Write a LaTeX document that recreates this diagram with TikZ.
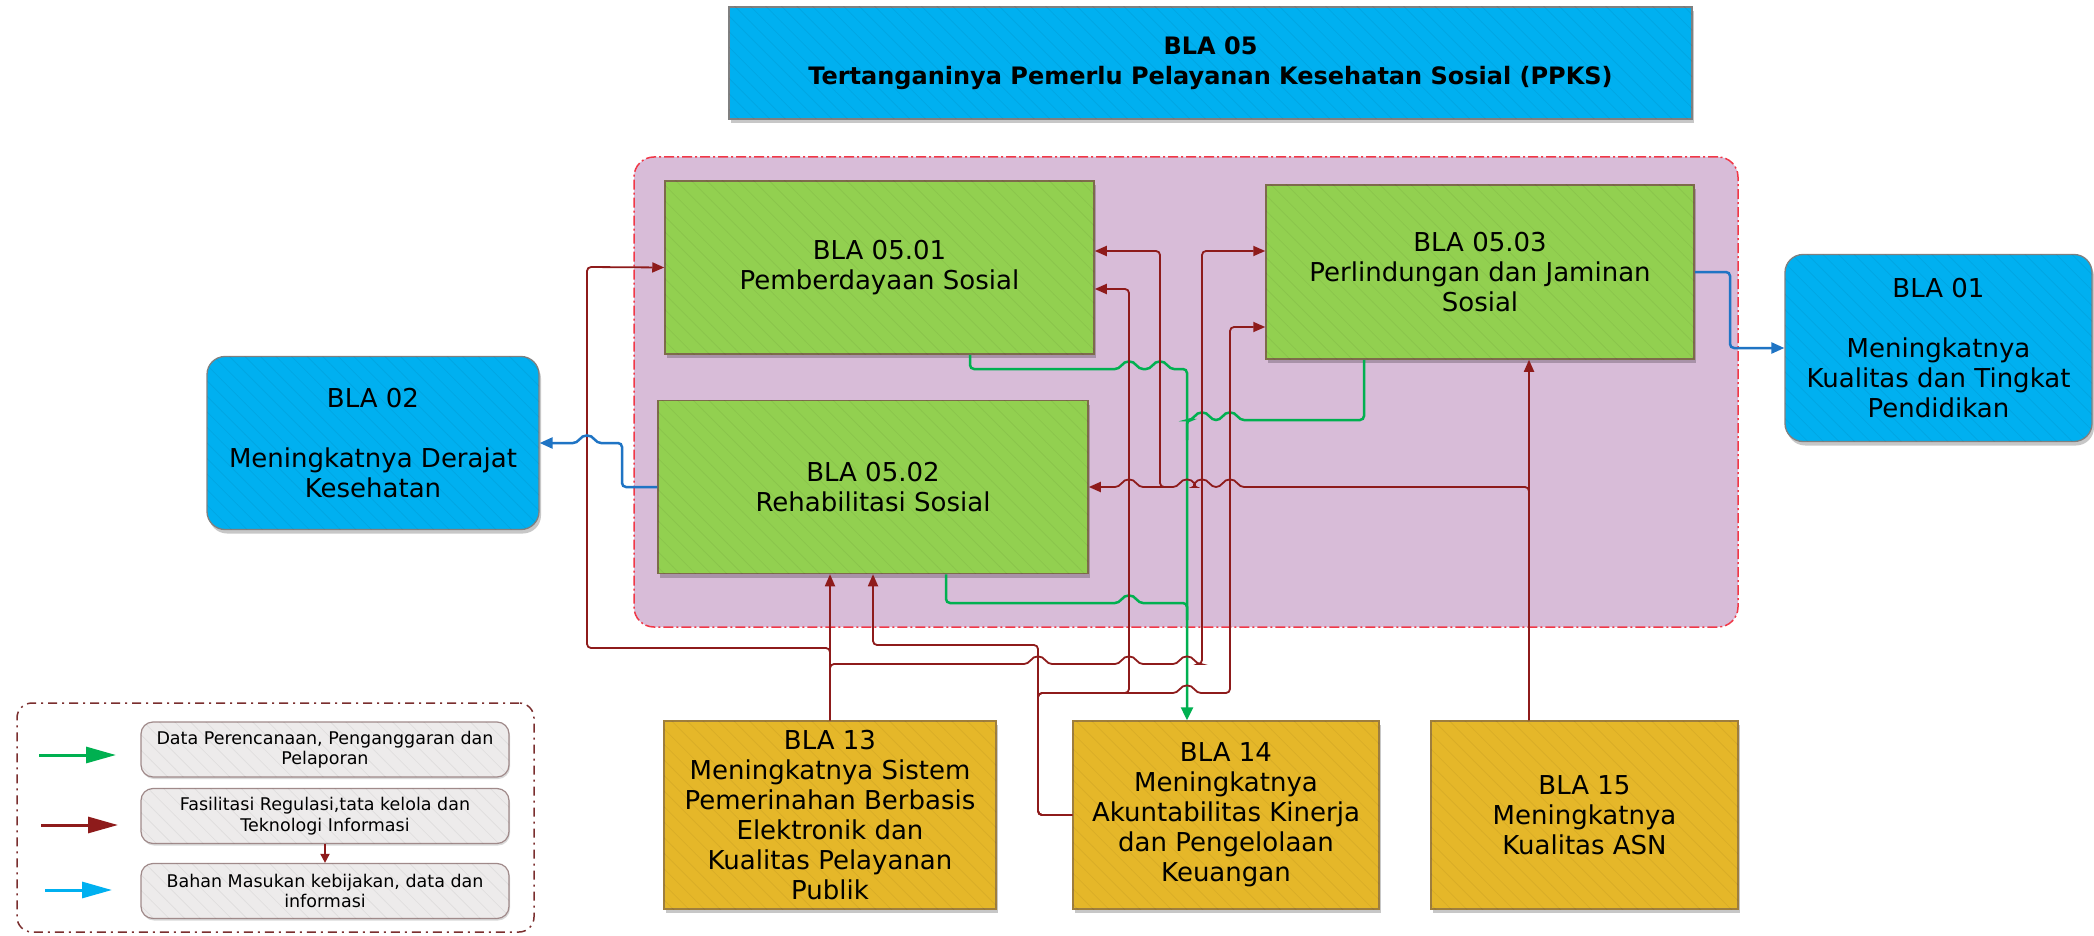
\documentclass[tikz,border=0pt]{standalone}
\usepackage{fontspec}
\setmainfont{DejaVu Sans}
\usetikzlibrary{arrows.meta,shadows,patterns.meta}
\definecolor{cyanfill}{HTML}{00B0F0}
\definecolor{greenfill}{HTML}{92D050}
\definecolor{yellowfill}{HTML}{E5B729}
\definecolor{purplebg}{HTML}{D8BCD8}
\definecolor{redline}{HTML}{8E1B1B}
\definecolor{greenline}{HTML}{00B050}
\definecolor{blueline}{HTML}{1F74C4}
\definecolor{legcyan}{HTML}{00B0F0}
\definecolor{boxborder}{HTML}{808080}
\definecolor{greenborder}{HTML}{7D6B4B}
\definecolor{yellowborder}{HTML}{9E7E3E}
\definecolor{legfill}{HTML}{EDEBEB}
\definecolor{legborder}{HTML}{A08A8A}
\definecolor{legframe}{HTML}{7A2E2E}
\definecolor{grpframe}{HTML}{F03848}
\newcommand\hopl[2]{-- ({#1-10},#2) .. controls ({#1-4},{#2-9}) and ({#1+4},{#2-9}) .. ({#1+10},#2)}
\newcommand\hopr[2]{-- ({#1+10},#2) .. controls ({#1+4},{#2-9}) and ({#1-4},{#2-9}) .. ({#1-10},#2)}
\tikzset{
  shd/.style={drop shadow={shadow xshift=2pt,shadow yshift=-4pt,opacity=.22,fill=black}},
  hatch/.style={postaction={pattern={Lines[angle=-45,distance=11pt,line width=0.8pt]}, pattern color=black, opacity=0.05}},
  boxtxt/.style={font=\fontsize{26}{30}\selectfont, align=center, text=black, inner sep=0pt},
  cyanbox/.style={boxtxt, draw=boxborder, line width=1.3pt, fill=cyanfill, shd, hatch},
  roundcyan/.style={cyanbox, rounded corners=18pt},
  greenbox/.style={boxtxt, draw=greenborder, line width=1.5pt, fill=greenfill, shd, hatch},
  yellowbox/.style={boxtxt, draw=yellowborder, line width=1.5pt, fill=yellowfill, shd, hatch},
  legitem/.style={draw=legborder, line width=1.2pt, fill=legfill, rounded corners=12pt,
    minimum width=368pt, minimum height=55pt, inner sep=0pt, align=center,
    font=\fontsize{17.5}{20.5}\selectfont, drop shadow={shadow xshift=1pt,shadow yshift=-2pt,opacity=.15,fill=black}, hatch},
  redn/.style={draw=redline, line width=1.8pt, rounded corners=4pt},
  redc/.style={redn, -{Triangle[length=12pt,width=10pt]}},
  greenn/.style={draw=greenline, line width=2.5pt, rounded corners=4pt},
  greenc/.style={greenn, -{Triangle[length=13pt,width=12pt]}},
  bluec/.style={draw=blueline, line width=2.5pt, rounded corners=4pt, -{Triangle[length=13pt,width=11pt]}},
  legarrow/.style={line width=3pt, -{Triangle[length=30pt,width=16pt]}},
}
\begin{document}
\begin{tikzpicture}[x=1pt,y=-1pt]
\useasboundingbox (0,0) rectangle (2094,936);
\fill[white] (0,0) rectangle (2094,936);

% group container
\node[draw=grpframe, line width=1.5pt, dash pattern=on 10pt off 3pt on 2pt off 3pt,
  fill=purplebg, rounded corners=20pt, minimum width=1104pt, minimum height=470pt, inner sep=0pt]
  (grp) at (1186,392) {};

% boxes
\node[cyanbox, font=\bfseries\fontsize{24}{30}\selectfont, minimum width=963pt, minimum height=112pt] (top) at (1210.5,63)
  {BLA 05\\Tertanganinya Pemerlu Pelayanan Kesehatan Sosial (PPKS)};
\node[greenbox, minimum width=429pt, minimum height=173pt] (b0501) at (879.5,267.5) {BLA 05.01\\Pemberdayaan Sosial};
\node[greenbox, minimum width=428pt, minimum height=174pt] (b0503) at (1480,272) {BLA 05.03\\Perlindungan dan Jaminan\\Sosial};
\node[greenbox, minimum width=430pt, minimum height=173pt] (b0502) at (873,487) {BLA 05.02\\Rehabilitasi Sosial};
\node[roundcyan, minimum width=332pt, minimum height=173pt] (b02) at (373,443) {BLA 02\\[30pt]Meningkatnya Derajat\\Kesehatan};
\node[roundcyan, minimum width=307pt, minimum height=187pt] (b01) at (1938.5,348) {BLA 01\\[30pt]Meningkatnya\\Kualitas dan Tingkat\\Pendidikan};
\node[yellowbox, minimum width=332pt, minimum height=188pt] (b13) at (830,815) {BLA 13\\Meningkatnya Sistem\\Pemerinahan Berbasis\\Elektronik dan\\Kualitas Pelayanan\\Publik};
\node[yellowbox, minimum width=306pt, minimum height=188pt] (b14) at (1226,815) {BLA 14\\Meningkatnya\\Akuntabilitas Kinerja\\dan Pengelolaan\\Keuangan};
\node[yellowbox, minimum width=307pt, minimum height=188pt] (b15) at (1584.5,815) {BLA 15\\Meningkatnya\\Kualitas ASN};

% legend
\node[draw=legframe, line width=1.5pt, dash pattern=on 9pt off 5pt on 2pt off 5pt,
  rounded corners=15pt, minimum width=517pt, minimum height=229pt, inner sep=0pt] (leg) at (275.5,817.5) {};
\node[legitem] (l1) at (325,749.5) {Data Perencanaan, Penganggaran dan\\Pelaporan};
\node[legitem] (l2) at (325,816) {Fasilitasi Regulasi,tata kelola dan\\Teknologi Informasi};
\node[legitem] (l3) at (325,891) {Bahan Masukan kebijakan, data dan\\informasi};
\coordinate (lg1a) at (39,755); \coordinate (lg1b) at (116,755);
\coordinate (lg2a) at (41,825); \coordinate (lg2b) at (118,825);
\coordinate (lg3a) at (45,890); \coordinate (lg3b) at (112,890);
\draw[legarrow, draw=greenline, fill=greenline] (lg1a) -- (lg1b);
\draw[legarrow, draw=redline, fill=redline] (lg2a) -- (lg2b);
\draw[legarrow, draw=legcyan, fill=legcyan] (lg3a) -- (lg3b);
\draw[draw=redline, line width=1.8pt, -{Triangle[length=9pt,width=9pt]}] (l2.south) -- (l3.north);

% green connectors (data perencanaan) -> BLA 14
\draw[greenc] ([xshift=90.5pt]b0501.south) -- (970,369) \hopl{1129}{369} \hopl{1160}{369} -- (1187,369) -- ([xshift=-39pt]b14.north);
\draw[greenn] ([xshift=-116pt]b0503.south) -- (1364,420) \hopr{1230}{420} \hopr{1202}{420} -- (1187,420) -- (1187,440);
\draw[greenn] ([xshift=73pt]b0502.south) -- (946,603) \hopl{1129}{603} -- (1187,603) -- (1187,620);

% red connectors from BLA 13
\draw[redc] (b13.north) -- (b13.north |- b0502.south);
\draw[redc] (b13.north) -- (830,648) -- (587,648) -- (587,267) -- (b0501.west);
\draw[redc] (b13.north) -- (830,664) \hopl{1038}{664} \hopl{1129}{664} \hopl{1187}{664} -- (1202,664) -- (1202,251) -- ([yshift=21pt]b0503.west);

% red connectors from BLA 14
\draw[redc] (b14.west) -- (1038,815) -- (1038,645) -- (873,645) -- (b0502.south);
\draw[redc] (b14.west) -- (1038,815) -- (1038,693) -- (1129,693) -- (1129,289) -- ([yshift=-21.5pt]b0501.east);
\draw[redc] (b14.west) -- (1038,815) -- (1038,693) \hopl{1187}{693} -- (1230,693) -- (1230,327) -- ([yshift=-55pt]b0503.west);

% red connectors from BLA 15
\draw[redc] ([xshift=-55.5pt]b15.north) -- ([xshift=49pt]b0503.south);
\draw[redc] ([xshift=-55.5pt]b15.north) -- (1529,487) \hopr{1230}{487} \hopr{1202}{487} \hopr{1187}{487} -- (1160,487) \hopr{1129}{487} -- (b0502.east);
\coordinate (j15) at (1173,487);
\draw[redc] (j15) -- (1160,487) -- (1160,251) -- ([yshift=16.5pt]b0501.east);

% blue connectors
\draw[bluec] (b0502.west) -- (622,487) -- (622,443) \hopr{587}{443} -- (b02.east);
\draw[bluec] (b0503.east) -- (1730,272) -- (1730,348) -- (b01.west);
\end{tikzpicture}
\end{document}
